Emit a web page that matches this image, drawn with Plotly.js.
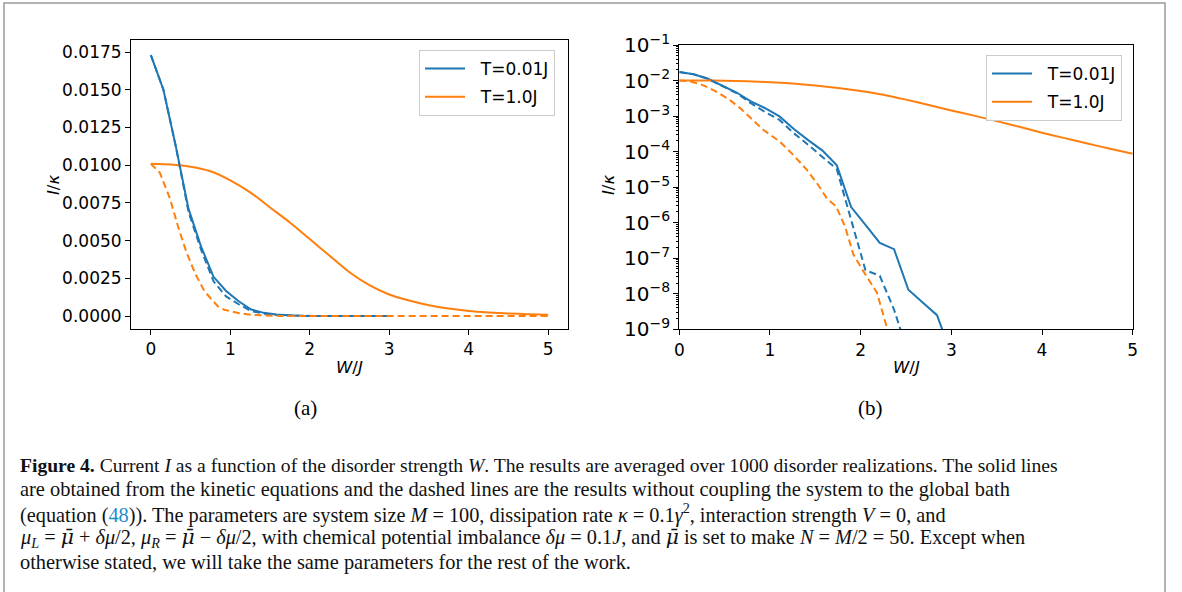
<!DOCTYPE html>
<html>
<head>
<meta charset="utf-8">
<script src="https://cdn.plot.ly/plotly-3.0.1.min.js"></script>
<style>
  html, body { margin: 0; padding: 0; background: #ffffff; }
  #chart { width: 1182px; height: 592px; }
</style>
</head>
<body>
<div id="chart"></div>
<script>
// ---- data ----
const seriesNames = ["T=0.01J", "T=1.0J"];

// T = 0.01J (blue)
const W_blue = [0, 0.158, 0.316, 0.474, 0.632, 0.789, 0.947, 1.105, 1.263, 1.421,
                1.579, 1.737, 1.895, 2.053, 2.211, 2.368, 2.526, 2.684, 2.842, 3.0];
const I_blue_solid = [0.0173, 0.0150, 0.0112, 0.0071, 0.0046, 0.0026, 0.00166, 9.8e-4, 4.3e-4, 2.1e-4,
                      1.07e-4, 4.1e-5, 2.75e-6, 8.7e-7, 2.7e-7, 1.8e-7, 1.3e-8, 5.7e-9, 2.5e-9, 2e-10];
const I_blue_dashed = [0.0173, 0.0150, 0.0112, 0.0069, 0.0044, 0.0023, 0.0013, 7.8e-4, 3.3e-4, 1.55e-4,
                       7.1e-5, 3.2e-5, 1.2e-6, 4.6e-8, 3.2e-8, 3.6e-9, 2e-10, 4e-11, 8e-12, 2e-12];

// T = 1.0J (orange), solid
const W_orange_solid = [0, 0.25, 0.5, 0.75, 1.0, 1.25, 1.5, 1.75, 2.0, 2.25, 2.5,
                        2.75, 3.0, 3.25, 3.5, 3.75, 4.0, 4.25, 4.5, 4.75, 5.0];
const I_orange_solid = [0.0101, 0.01005, 0.0099, 0.0096, 0.0090, 0.0082, 0.0072, 0.0062, 0.0051, 0.0040, 0.0029,
                        0.00205, 0.00143, 0.00103, 0.00072, 0.00050, 0.00034, 0.00024, 0.00017, 0.00012, 0.000087];

// T = 1.0J (orange), dashed
const W_orange_dashed = [0, 0.113, 0.24, 0.344, 0.45, 0.559, 0.68, 0.848, 0.926, 1.11, 1.257, 1.405,
                         1.53, 1.625, 1.728, 1.827, 1.92, 2.03, 2.18, 2.29, 2.4, 3.0, 4.0, 5.0];
const I_orange_dashed = [0.0101, 0.0095, 0.0078, 0.0059, 0.0042, 0.0028, 0.0016, 6.2e-4, 4.1e-4, 1.9e-4, 8.1e-5, 3.1e-5,
                         1.17e-5, 4.9e-6, 2.9e-6, 7.9e-7, 1.27e-7, 4.3e-8, 1.07e-8, 1.1e-9, 1e-10, 1e-12, 1e-13, 1e-14];

const linTicks = [0, 0.0025, 0.005, 0.0075, 0.01, 0.0125, 0.015, 0.0175];
const xTicks = [0, 1, 2, 3, 4, 5];

const MUBAR = "<span style='font-family:DejaVu Serif'><i>μ̄</i></span>";
const captionLines = [
  "<b>Figure 4.</b> Current <i>I</i> as a function of the disorder strength <i>W</i>. The results are averaged over 1000 disorder realizations. The solid lines",
  "are obtained from the kinetic equations and the dashed lines are the results without coupling the system to the global bath",
  "(equation (<span style='color:#1b8ec9'>48</span>)). The parameters are system size <i>M</i> = 100, dissipation rate <i>κ</i> = 0.1<i>γ</i><sup>2</sup>, interaction strength <i>V</i> = 0, and",
  "<i>μ</i><sub><i>L</i></sub> = " + MUBAR + " + <i>δμ</i>/2, <i>μ</i><sub><i>R</i></sub> = " + MUBAR + " − <i>δμ</i>/2, with chemical potential imbalance <i>δμ</i> = 0.1<i>J</i>, and " + MUBAR + " is set to make <i>N</i> = <i>M</i>/2 = 50. Except when",
  "otherwise stated, we will take the same parameters for the rest of the work."
];

// ---- styling ----
const BLUE = "#1f77b4", ORANGE = "#ff7f0e";
const FONT = "DejaVu Sans";
const DASH = "7px,4px";
const W = 1182, H = 592;
const px = v => v / W;
const py = v => 1 - v / H;
const NB = "\u00a0\u00a0";

function traces(xa, ya, legendId) {
  return [
    {x: W_blue, y: I_blue_solid, xaxis: xa, yaxis: ya, mode: "lines", name: NB + seriesNames[0],
     line: {color: BLUE, width: 2}, legend: legendId, legendgroup: legendId + "a"},
    {x: W_orange_solid, y: I_orange_solid, xaxis: xa, yaxis: ya, mode: "lines", name: NB + seriesNames[1],
     line: {color: ORANGE, width: 2, shape: "spline", smoothing: 0.6}, legend: legendId, legendgroup: legendId + "b"},
    {x: W_blue, y: I_blue_dashed, xaxis: xa, yaxis: ya, mode: "lines", showlegend: false,
     line: {color: BLUE, width: 2, dash: DASH}},
    {x: W_orange_dashed, y: I_orange_dashed, xaxis: xa, yaxis: ya, mode: "lines", showlegend: false,
     line: {color: ORANGE, width: 2, dash: DASH}}
  ];
}

const data = [...traces("x", "y", "legend"), ...traces("x2", "y2", "legend2")];

const axisCommon = {
  showline: true, linecolor: "#000", linewidth: 1, mirror: true,
  ticks: "outside", ticklen: 5, tickwidth: 1, tickcolor: "#000",
  showgrid: false, zeroline: false,
  tickfont: {family: FONT, size: 17, color: "#000"}
};

const legendCommon = {
  bgcolor: "rgba(255,255,255,0.9)", bordercolor: "#cccccc", borderwidth: 1,
  font: {family: FONT, size: 17, color: "#000"},
  xanchor: "right", yanchor: "top", itemwidth: 40,
  traceorder: "grouped", tracegroupgap: 3
};

const annotations = [
  {text: "<i>I</i>/<i>κ</i>", x: px(53), y: py(185), textangle: -90},
  {text: "<i>I</i>/<i>κ</i>", x: px(608), y: py(185), textangle: -90},
  {text: "<i>W</i>/<i>J</i>", x: px(349), y: py(367)},
  {text: "<i>W</i>/<i>J</i>", x: px(906), y: py(367)}
].map(a => Object.assign({xref: "paper", yref: "paper", showarrow: false,
  xanchor: "center", yanchor: "middle", font: {family: FONT, size: 16.5, color: "#000"}}, a));

[{text: "(a)", x: px(305), y: py(408)}, {text: "(b)", x: px(870), y: py(408)}].forEach(a => {
  annotations.push(Object.assign({xref: "paper", yref: "paper", showarrow: false,
    xanchor: "center", yanchor: "middle", font: {family: "Liberation Serif", size: 21, color: "#000"}}, a));
});

const captionY = [465, 489, 513, 538, 562];
const captionSize = [19.6, 20.4, 20.3, 20.3, 20.4];
captionLines.forEach((t, i) => {
  annotations.push({text: t, xref: "paper", yref: "paper", x: px(18), y: py(captionY[i]),
    xanchor: "left", yanchor: "middle", showarrow: false,
    font: {family: "Liberation Serif", size: captionSize[i], color: "#111"}});
});

const layout = {
  width: W, height: H,
  margin: {l: 0, r: 0, t: 0, b: 0},
  paper_bgcolor: "#fff", plot_bgcolor: "#fff",
  showlegend: true,
  xaxis: Object.assign({}, axisCommon, {domain: [px(131), px(568)], range: [-0.25, 5.25],
    tickvals: xTicks, anchor: "y"}),
  yaxis: Object.assign({}, axisCommon, {domain: [py(329), py(40)], range: [-0.00086, 0.0183],
    tickvals: linTicks, tickformat: ".4f", anchor: "x"}),
  xaxis2: Object.assign({}, axisCommon, {domain: [px(679.3), px(1132.7)], range: [0, 5],
    tickvals: xTicks, anchor: "y2"}),
  yaxis2: Object.assign({}, axisCommon, {domain: [py(329.3), py(45)], type: "log", range: [-9, -1],
    dtick: 1, exponentformat: "power", anchor: "x2",
    tickfont: {family: FONT, size: 16, color: "#000"},
    minor: {ticks: "outside", ticklen: 2.5, tickcolor: "#000", dtick: "D1", showgrid: false}}),
  legend: Object.assign({}, legendCommon, {x: px(555), y: py(50)}),
  legend2: Object.assign({}, legendCommon, {x: px(1122), y: py(55)}),
  annotations: annotations,
  shapes: [
    {type: "rect", xref: "paper", yref: "paper", x0: px(4), x1: px(1165), y0: -0.05, y1: py(3),
     line: {color: "#9a9a9a", width: 1.5}, fillcolor: "rgba(0,0,0,0)", layer: "below"}
  ]
};

Plotly.newPlot("chart", data, layout, {staticPlot: true, displayModeBar: false});
</script>
</body>
</html>
